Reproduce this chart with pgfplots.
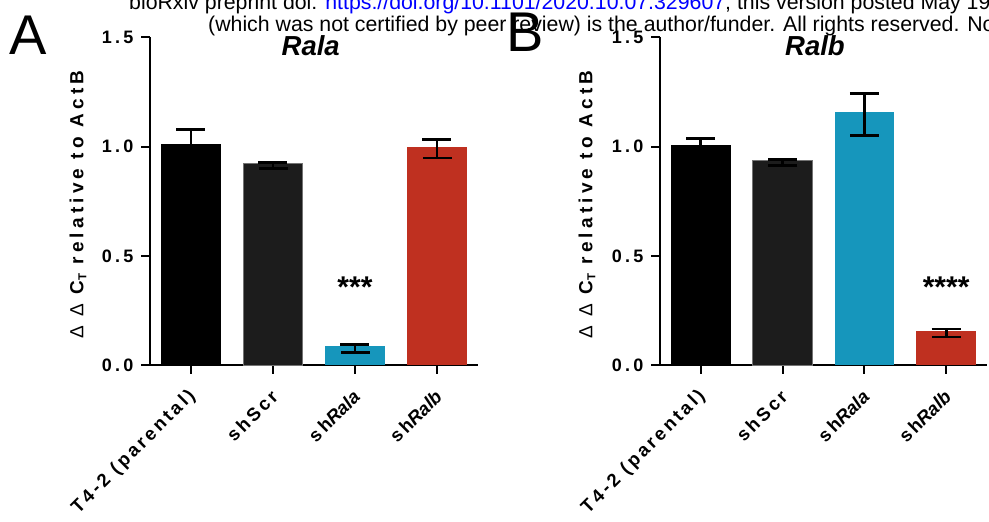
\documentclass[border=0pt]{standalone}
\usepackage{fontspec}
\setmainfont{Liberation Sans}
\newfontfamily\spfont[LetterSpace=18]{Liberation Sans}
\newfontfamily\spfontL[LetterSpace=22]{Liberation Sans}
\newfontfamily\spfontX[LetterSpace=16]{Liberation Sans}
\usepackage{pgfplots}
\pgfplotsset{compat=1.18}
\definecolor{cblue}{RGB}{22,150,188}
\definecolor{cred}{RGB}{191,48,32}
\definecolor{cdark}{RGB}{28,28,28}
\newcommand\spb[1]{{\spfontX\bfseries #1}}
\newcommand\shg[1]{{\spfontX\bfseries sh}{\bfseries\itshape #1}}
\newcommand\ylab{{\spfontL\mdseries Δ Δ }C\raisebox{-3pt}{\fontsize{11.5}{11.5}\selectfont T} relative to ActB}
\pgfplotsset{
  panel/.style={
    scale only axis, width=328pt, height=327.5pt,
    xmin=-0.5, xmax=3.5, ymin=0, ymax=1.5,
    axis lines=left, axis line style={-, line width=2pt},
    ytick={0,0.5,1,1.5}, yticklabels={0.0,0.5,1.0,1.5},
    xtick={0,1,2,3},
    xticklabels={\spb{T4-2 (parental)},\spb{shScr},\shg{Rala},\shg{Ralb}},
    tick align=outside, major tick length=9pt, tick style={line width=2pt, black},
    yticklabel style={font=\spfont\bfseries\fontsize{18}{18}\selectfont, xshift=-4pt},
    xticklabel style={font=\fontsize{18.5}{18.5}\selectfont, xshift=4pt, yshift=-17pt, rotate=45, anchor=east},
    ybar, bar width=59.5pt,
    clip=false,
    title style={font=\bfseries\itshape\fontsize{27.5}{27.5}\selectfont, anchor=center, yshift=0pt},
    ylabel style={font=\spfontL\bfseries\fontsize{19}{19}\selectfont, anchor=center},
  },
  bb/.style={fill=#1, draw=none, bar shift=0pt,
    /pgfplots/error bars/y dir=both, /pgfplots/error bars/y explicit,
    /pgfplots/error bars/error bar style={line width=2.8pt, black},
    /pgfplots/error bars/error mark options={rotate=90, line width=2.8pt, mark size=14.5pt, black}},
}
\begin{document}
\begin{tikzpicture}
\useasboundingbox (0pt,0pt) rectangle (989pt,522pt);
\clip (0pt,0pt) rectangle (989pt,522pt);
\node[anchor=base west, inner sep=0, font=\fontsize{21.3}{21.3}\selectfont] at (129pt,512.5pt)
  {bioRxiv preprint doi: \textcolor{blue}{https://doi.org/10.1101/2020.10.07.329607}; this version posted May 19, 2021. The copyright holder};
\node[anchor=base west, inner sep=0, font=\fontsize{21.3}{21.3}\selectfont] at (208pt,490pt)
  {(which was not certified by peer review) is the author/funder. All rights reserved. No reuse allowed};
\node[anchor=base west, inner sep=0, font=\fontsize{56}{56}\selectfont] at (9pt,467pt) {A};
\node[anchor=base west, inner sep=0, font=\fontsize{56}{56}\selectfont] at (506pt,470pt) {B};

\begin{axis}[panel, at={(150pt,157pt)}, anchor=south west,
  title={Rala}, title style={at={(axis description cs:0.49,0.958)}},
  ylabel={\ylab}, ylabel style={at={(axis description cs:-0.2195,0.489)}}]
\addplot[bb=black] table[x=x,y=y,y error plus=ep,y error minus=em,row sep=\\]{x y ep em\\ 0 1.010 0.070 0.070\\};
\addplot[bb=cdark, draw=black!55, line width=0.8pt] table[x=x,y=y,y error plus=ep,y error minus=em,row sep=\\]{x y ep em\\ 1 0.922 0.005 0.021\\};
\addplot[bb=cblue] table[x=x,y=y,y error plus=ep,y error minus=em,row sep=\\]{x y ep em\\ 2 0.085 0.008 0.027\\};
\addplot[bb=cred] table[x=x,y=y,y error plus=ep,y error minus=em,row sep=\\]{x y ep em\\ 3 0.997 0.037 0.049\\};
\node[font=\bfseries\fontsize{30}{30}\selectfont, anchor=base] at (axis cs:2,0.31) {***};
\end{axis}

\begin{axis}[panel, at={(660pt,157pt)}, anchor=south west, width=327pt,
  title={Ralb}, title style={at={(axis description cs:0.474,0.958)}},
  ylabel={\ylab}, ylabel style={at={(axis description cs:-0.223,0.489)}}]
\addplot[bb=black] table[x=x,y=y,y error plus=ep,y error minus=em,row sep=\\]{x y ep em\\ 0 1.009 0.028 0.028\\};
\addplot[bb=cdark, draw=black!55, line width=0.8pt] table[x=x,y=y,y error plus=ep,y error minus=em,row sep=\\]{x y ep em\\ 1 0.936 0.004 0.021\\};
\addplot[bb=cblue] table[x=x,y=y,y error plus=ep,y error minus=em,row sep=\\]{x y ep em\\ 2 1.158 0.087 0.108\\};
\addplot[bb=cred] table[x=x,y=y,y error plus=ep,y error minus=em,row sep=\\]{x y ep em\\ 3 0.156 0.009 0.028\\};
\node[font=\bfseries\fontsize{30}{30}\selectfont, anchor=base] at (axis cs:3,0.31) {****};
\end{axis}
\end{tikzpicture}
\end{document}
